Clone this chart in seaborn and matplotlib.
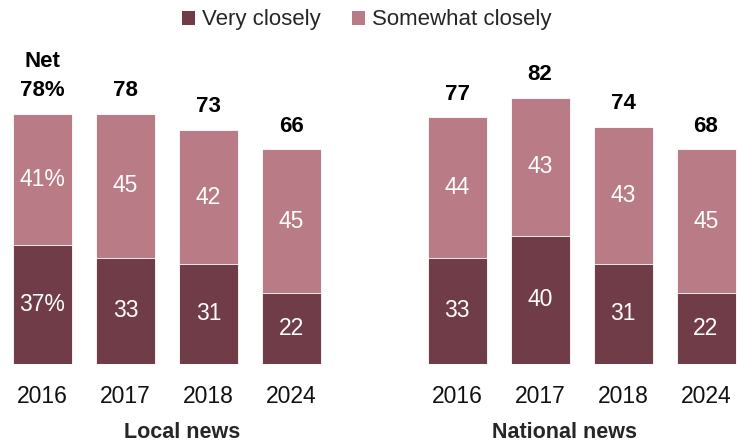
import matplotlib
matplotlib.use("Agg")
import matplotlib.pyplot as plt
from matplotlib.patches import Patch
import seaborn as sns
import pandas as pd

sns.set_theme(style="white")
plt.rcParams["font.family"] = ["Liberation Sans", "DejaVu Sans"]

# Data
years = ["2016", "2017", "2018", "2024"]
local_very = [37, 33, 31, 22]
local_somewhat = [41, 45, 42, 45]
local_net = [78, 78, 73, 66]
national_very = [33, 40, 31, 22]
national_somewhat = [44, 43, 43, 45]
national_net = [77, 82, 74, 68]
panel_titles = ["Local news", "National news"]
legend_labels = ["Very closely", "Somewhat closely"]

DARK = "#703c48"
LIGHT = "#b97b85"

W, H = 738, 442
fig = plt.figure(figsize=(W / 100, H / 100), dpi=100)

# axes geometry in pixels
bar_step = 83.0
xpad = 0.37
ax_w = (3 + 2 * xpad) * bar_step
base_from_bottom = 78.5
px_per_unit = 3.2
ymax = 100
ax_h = ymax * px_per_unit
centers0 = [42.5, 457.0]

panels = [
    (local_very, local_somewhat, local_net),
    (national_very, national_somewhat, national_net),
]

for i, (very, some, net) in enumerate(panels):
    left = centers0[i] - xpad * bar_step
    ax = fig.add_axes([left / W, base_from_bottom / H, ax_w / W, ax_h / H])
    df = pd.DataFrame({
        "year": years,
        "very": very,
        "somewhat": some,
        "total": [v + s for v, s in zip(very, some)],
        "net": net,
    })
    sns.barplot(data=df, x="year", y="total", color=LIGHT, saturation=1,
                width=59 / bar_step, edgecolor="white", linewidth=0.6, ax=ax)
    sns.barplot(data=df, x="year", y="very", color=DARK, saturation=1,
                width=59 / bar_step, edgecolor="white", linewidth=0.6, ax=ax)
    ax.set_xlim(-xpad, 3 + xpad)
    ax.set_ylim(0, ymax)
    ax.set_xlabel("")
    ax.set_ylabel("")
    ax.set_yticks([])
    ax.tick_params(axis="x", length=0, pad=15.5, labelsize=16.5, labelcolor="#111111")
    for s in ax.spines.values():
        s.set_visible(False)

    for j, row in df.iterrows():
        pct = "%" if (i == 0 and j == 0) else ""
        ax.text(j, row["very"] / 2, f"{row['very']}{pct}", ha="center", va="center",
                color="white", fontsize=16.5)
        ax.text(j, row["very"] + row["somewhat"] / 2, f"{row['somewhat']}{pct}",
                ha="center", va="center", color="white", fontsize=16.5)
        ax.annotate(f"{row['net']}{pct}", xy=(j, row["total"]), xytext=(0, 9),
                    textcoords="offset points", ha="center", va="bottom",
                    fontsize=16, fontweight="bold", color="black")
        if i == 0 and j == 0:
            ax.annotate("Net", xy=(j, row["total"]), xytext=(0, 30.5),
                        textcoords="offset points", ha="center", va="bottom",
                        fontsize=16, fontweight="bold", color="black")

fig.text(182 / W, 1 - 432 / H, panel_titles[0], ha="center", va="center",
         fontsize=15.5, fontweight="bold")
fig.text(564 / W, 1 - 432 / H, panel_titles[1], ha="center", va="center",
         fontsize=15.5, fontweight="bold")

handles = [Patch(facecolor=DARK, edgecolor="none"), Patch(facecolor=LIGHT, edgecolor="none")]
fig.legend(handles, legend_labels, loc="center", bbox_to_anchor=(0.497, 1 - 20 / H),
           ncol=2, frameon=False, fontsize=16, handlelength=0.6, handleheight=0.6,
           handletextpad=0.3, columnspacing=1.4, borderaxespad=0, borderpad=0)

fig.savefig("out.png", dpi=100)
